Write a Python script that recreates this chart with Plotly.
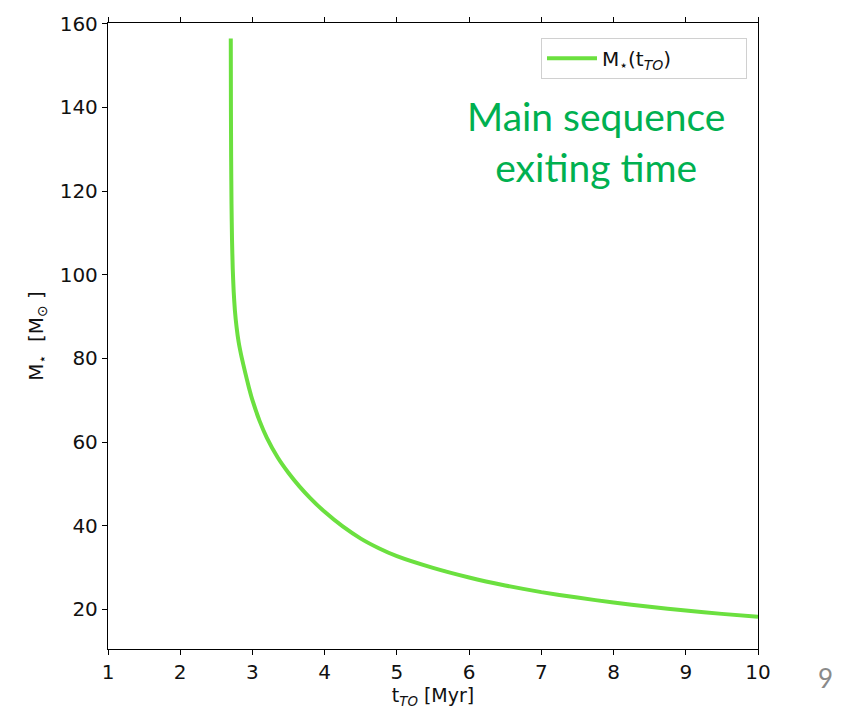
import plotly.graph_objects as go

t_to = [2.700, 2.702, 2.705, 2.710, 2.717, 2.727, 2.740, 2.757, 2.780, 2.810, 2.850, 2.900,
        2.950, 3.000, 3.100, 3.200, 3.350, 3.500, 3.650, 3.800, 4.000, 4.250, 4.500, 4.750,
        5.000, 5.500, 6.000, 6.500, 7.000, 7.500, 8.000, 8.500, 9.000, 9.500, 10.000]
mass = [156.5, 140.0, 128.0, 117.0, 108.5, 101.5, 96.0, 91.5, 87.5, 83.8, 80.3, 76.6,
        73.1, 70.0, 65.0, 61.0, 56.3, 52.6, 49.4, 46.6, 43.3, 39.8, 36.9, 34.6,
        32.7, 29.9, 27.6, 25.7, 24.1, 22.8, 21.6, 20.6, 19.7, 18.9, 18.2]

x_ticks = [1, 2, 3, 4, 5, 6, 7, 8, 9, 10]
y_ticks = [20, 40, 60, 80, 100, 120, 140, 160]

W, H = 844, 712
L, R, T, B = 108, 86, 17, 63
PW, PH = W - L - R, H - T - B


def px_x(p):
    return (p - L) / PW


def px_y(p):
    return (H - B - p) / PH


fig = go.Figure()
fig.add_trace(go.Scatter(
    x=t_to, y=mass, mode="lines",
    line=dict(color="#6BE03F", width=4, shape="spline", smoothing=0.5),
    name="M<sub>⋆</sub>(t<sub><i>TO</i></sub>)" + "\u00a0" * 11,
))

axis_font = dict(family="DejaVu Sans", size=20, color="#111111")
fig.update_layout(
    width=W, height=H,
    margin=dict(l=L, r=R, t=T, b=B),
    paper_bgcolor="white", plot_bgcolor="white",
    showlegend=True,
    legend=dict(
        x=px_x(747), y=px_y(32), xanchor="right", yanchor="top",
        bgcolor="white", bordercolor="#d0d0d0", borderwidth=1,
        font=dict(family="DejaVu Sans", size=20, color="#111111"),
        itemwidth=50,
    ),
    xaxis=dict(
        range=[1, 10], tickvals=x_ticks, ticktext=[str(v) for v in x_ticks],
        showgrid=False, zeroline=False,
        showline=True, linecolor="black", linewidth=1.3, mirror="ticks",
        ticks="outside", ticklen=5, tickcolor="black", tickfont=axis_font,
        title=dict(text="t<sub><i>TO</i></sub> [Myr]",
                   font=dict(family="DejaVu Sans", size=19, color="#111111"), standoff=2),
    ),
    yaxis=dict(
        range=[10.5, 160.2], tickvals=y_ticks, ticktext=[str(v) for v in y_ticks],
        showgrid=False, zeroline=False,
        showline=True, linecolor="black", linewidth=1.3, mirror=True,
        ticks="outside", ticklen=5, tickcolor="black", tickfont=axis_font,
        title=dict(text="M<sub>⋆</sub>  [M<sub>⊙</sub> ]",
                   font=dict(family="DejaVu Sans", size=20, color="#111111"), standoff=10),
    ),
    annotations=[
        dict(text="Main sequence<br>exiting time", x=px_x(596), y=px_y(137),
             xref="paper", yref="paper", xanchor="center", yanchor="middle",
             showarrow=False, font=dict(family="Lato", size=39, color="#00B050"), align="center"),
        dict(text="9", x=px_x(825), y=px_y(678), xref="paper", yref="paper",
             xanchor="center", yanchor="middle", showarrow=False,
             font=dict(family="Lato", size=26, color="#8A8A8A")),
    ],
)

fig.write_html("out.html")
